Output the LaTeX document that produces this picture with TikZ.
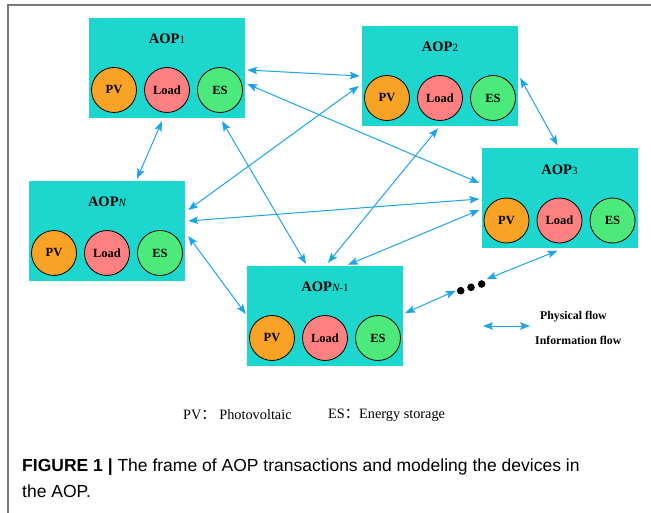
\documentclass[tikz,border=0pt]{standalone}
\usepackage{fontspec}
\setmainfont{Liberation Serif}
\newfontfamily\capfont{Liberation Sans}
\newfontfamily\cjk{Noto Sans CJK SC}
\usetikzlibrary{arrows.meta,calc}

\definecolor{aopfill}{RGB}{29,214,206}
\definecolor{pvfill}{RGB}{248,163,38}
\definecolor{loadfill}{RGB}{255,128,128}
\definecolor{esfill}{RGB}{76,234,122}
\definecolor{flowblue}{RGB}{27,165,232}
\definecolor{framegray}{RGB}{120,120,120}

\tikzset{
  aop/.style={fill=aopfill, draw=none, minimum width=156pt, minimum height=100pt, inner sep=0pt},
  aoptitle/.style={inner sep=0pt, font=\fontsize{14.5}{14.5}\selectfont},
  dev/.style={circle, draw=black, line width=0.8pt, minimum size=45pt, inner sep=0pt,
              font=\fontsize{12.5}{13}\selectfont\bfseries},
  tip/.style={Stealth[length=10pt,width=7.5pt,inset=2pt]},
  flow/.style={draw=flowblue, line width=1pt, {Stealth[length=10pt,width=7.5pt,inset=2pt]}-{Stealth[length=10pt,width=7.5pt,inset=2pt]}},
  dot/.style={circle, fill=black, minimum size=7.6pt, inner sep=0pt},
  legend/.style={inner sep=0pt, font=\fontsize{11.8}{12}\selectfont\bfseries},
  note/.style={inner sep=0pt, font=\fontsize{14.3}{14.3}\selectfont},
  caption/.style={inner sep=0pt, font=\capfont\fontsize{17.5}{18}\selectfont}
}

% one AOP block: box, title and its three devices
\newcommand\aopblock[4]{%
  \node[aop] (#1) at (#2,#3) {};
  \node[aoptitle] (#1t) at ($(#1.center)+(0,-29)$) {#4};
  \node[dev, fill=pvfill]   (#1pv)   at ($(#1.center)+(-53,22)$) {PV};
  \node[dev, fill=loadfill] (#1load) at ($(#1.center)+(0,22)$)   {Load};
  \node[dev, fill=esfill]   (#1es)   at ($(#1.center)+(53,22)$)  {ES};
}
\newcommand\aopsub[1]{{\fontsize{11}{11}\selectfont\mdseries #1}}

\begin{document}
\begin{tikzpicture}[x=1pt,y=-1pt]
\useasboundingbox (0,0) rectangle (651,513);

% page frame
\draw[framegray, line width=1.5pt] (8,513) -- (8,5) -- (651,5);

% AOP blocks
\aopblock{A1}{167}{68}{\bfseries AOP\aopsub{1}}
\aopblock{A2}{440}{76}{\bfseries AOP\aopsub{2}}
\aopblock{A3}{559.5}{198.5}{\bfseries AOP\aopsub{3}}
\aopblock{AN1}{325}{316}{\bfseries AOP\aopsub{\itshape N\upshape -1}}
\aopblock{AN}{107}{231}{\bfseries AOP\aopsub{\itshape N}}

% the remaining AOPs
\node[dot] (d1) at (460.7,290.7) {};
\node[dot] (d2) at (471,287.3) {};
\node[dot] (d3) at (481.7,284) {};

% transactions between AOPs
\draw[flow] ([xshift=2pt,yshift=-2pt]A1.east) -- ([xshift=-2pt]A2.west);
\draw[flow] ([xshift=2pt,yshift=-16pt]A1.east) -- ([xshift=-2pt,yshift=15.5pt]A3.west);
\draw[flow] ([xshift=-5pt,yshift=-3pt]A1.south) -- ([xshift=30pt,yshift=2pt]AN.north);
\draw[flow] ([xshift=55pt,yshift=-3pt]A1.south) -- ([xshift=-19pt,yshift=2pt]AN1.north);
\draw[flow] ([xshift=-3pt,yshift=-10pt]A2.west) -- ([xshift=3pt,yshift=21pt]AN.east);
\draw[flow] ([xshift=-2pt,yshift=-2pt]A2.south) -- ([xshift=3pt,yshift=3pt]AN1.north);
\draw[flow] ([xshift=2pt,yshift=-2pt]A2.east) -- ([xshift=-2pt,yshift=3pt]A3.north);
\draw[flow] ([xshift=-2pt,yshift=-0.5pt]A3.west) -- ([xshift=3pt,yshift=10pt]AN.east);
\draw[flow] ([xshift=-2pt,yshift=-11.5pt]A3.west) -- ([xshift=23pt,yshift=1pt]AN1.north);
\draw[flow] ([xshift=3pt,yshift=-5pt]AN.east) -- ([xshift=-1pt,yshift=2pt]AN1.west);
\draw[flow] ([xshift=2pt,yshift=3pt]AN1.east) -- ([xshift=-1pt]d1.west);
\draw[flow] ([xshift=2pt,yshift=2pt]d3.north east) -- ([xshift=-2pt,yshift=-2pt]A3.south);

% legend
\coordinate (lg1) at (483,326);
\coordinate (lg2) at (530,326);
\draw[flow] (lg1) -- (lg2);
\node[legend, anchor=west] (lphys) at (540,317) {Physical flow};
\node[legend, anchor=west] (linfo) at (535,340) {Information flow};

% abbreviations
\node[note, anchor=west] (note1) at (183,415) {PV{\cjk ：} Photovoltaic};
\node[note, anchor=west] (note2) at (328,415) {ES{\cjk ：}Energy storage};

% caption
\node[caption, anchor=west] (cap1) at (22,467) {\bfseries FIGURE 1 |\mdseries\ The frame of AOP transactions and modeling the devices in};
\node[caption, anchor=west] (cap2) at (22,491) {the AOP.};
\end{tikzpicture}
\end{document}
